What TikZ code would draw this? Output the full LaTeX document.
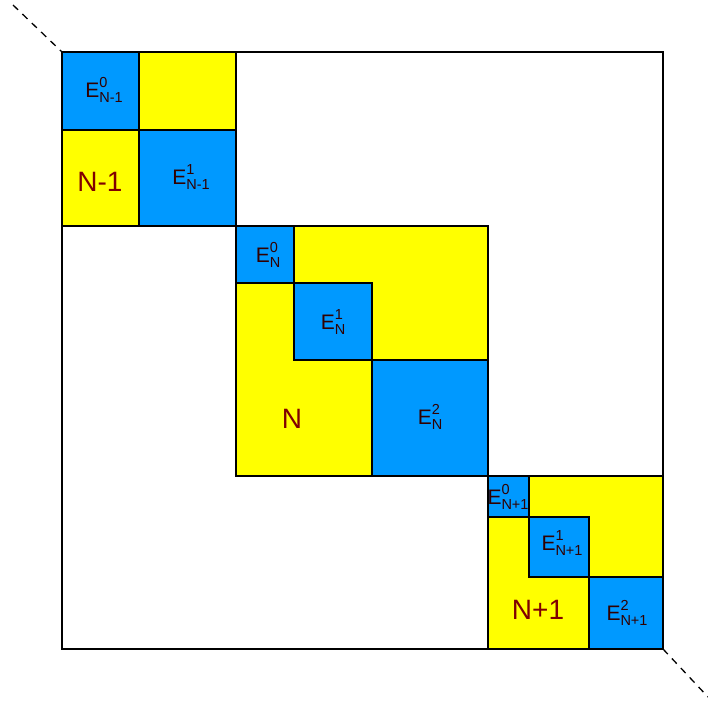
\documentclass[tikz,border=0pt]{standalone}
\usepackage{fontspec}
\setmainfont{Liberation Sans}
\usepackage{xcolor}
\usepackage{tikz}
\usetikzlibrary{calc}

\definecolor{eblue}{HTML}{0099FF}
\definecolor{nyellow}{HTML}{FFFF00}
\definecolor{elabel}{HTML}{300000}
\definecolor{nlabel}{HTML}{800000}

% E with stacked superscript and subscript
\newcommand{\esubfont}{\fontsize{14.5}{14.5}\selectfont}
\newcommand{\elabel}[2]{E\rlap{\raisebox{10.5pt}{\esubfont #1}}\raisebox{-5pt}{\esubfont #2}}

\tikzset{
  yblock/.style={fill=nyellow, draw=black, line width=1.2pt},
  eblock/.style={fill=eblue, draw=black, line width=1.2pt},
  elab/.style={font=\fontsize{21}{21}\selectfont, text=elabel, inner sep=0pt},
  nlab/.style={font=\fontsize{28}{28}\selectfont, text=nlabel, inner sep=0pt}
}

\begin{document}
\begin{tikzpicture}[x=1pt, y=-1pt]
\useasboundingbox (0,0) rectangle (708,704);
% outer matrix frame
\coordinate (ftl) at (62,52);
\coordinate (fbr) at (663,649);
\draw[line width=1.6pt] (ftl) rectangle (fbr);
% diagonal continuation
\coordinate (dtop) at (13,5);
\coordinate (dbot) at (708,697);
\draw[dashed, line width=1.3pt, dash pattern=on 7pt off 6pt] (dtop) -- (ftl);
\draw[dashed, line width=1.3pt, dash pattern=on 7pt off 6pt] (fbr) -- (dbot);
% block N-1
\draw[yblock] (62,52) rectangle (236,226);
\draw[eblock] (62,52) rectangle (139,130);
\draw[eblock] (139,130) rectangle (236,226);
\node[elab] (e0nm) at (104,90) {\elabel{0}{N-1}};
\node[elab] (e1nm) at (191,177) {\elabel{1}{N-1}};
\node[nlab] (nm) at (100,182) {N-1};
% block N
\draw[yblock] (236,226) rectangle (488,476);
\draw[eblock] (236,226) rectangle (294,283);
\draw[eblock] (294,283) rectangle (372,360);
\draw[eblock] (372,360) rectangle (488,476);
\node[elab] (e0n) at (268,255) {\elabel{0}{N}};
\node[elab] (e1n) at (333,322) {\elabel{1}{N}};
\node[elab] (e2n) at (430,417) {\elabel{2}{N}};
\node[nlab] (n) at (292,419) {N};
% block N+1
\draw[yblock] (488,476) rectangle (663,649);
\draw[eblock] (488,476) rectangle (529,517);
\draw[eblock] (529,517) rectangle (589,577);
\draw[eblock] (589,577) rectangle (663,649);
\node[elab] (e0np) at (508,497) {\elabel{0}{N+1}};
\node[elab] (e1np) at (562,543) {\elabel{1}{N+1}};
\node[elab] (e2np) at (627,613) {\elabel{2}{N+1}};
\node[nlab] (np) at (538,610) {N+1};
\end{tikzpicture}
\end{document}
